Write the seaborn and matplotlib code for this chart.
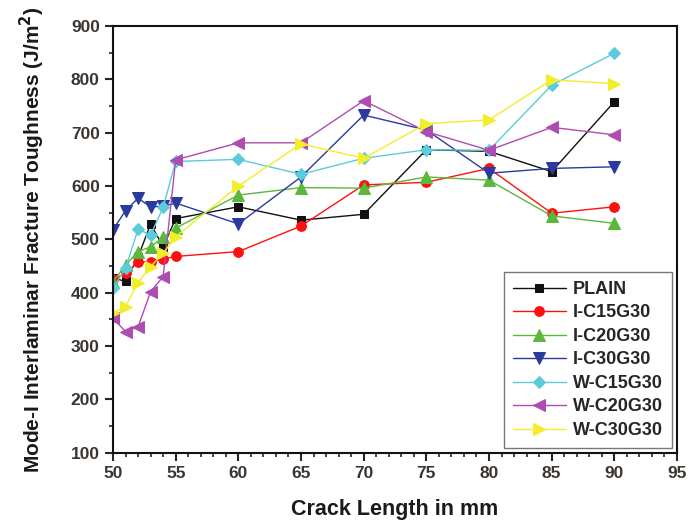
import matplotlib
matplotlib.use("Agg")
import matplotlib.pyplot as plt
import seaborn as sns
from matplotlib.ticker import MultipleLocator

# crack lengths (mm)
crack_length = [50, 51, 52, 53, 54, 55, 60, 65, 70, 75, 80, 85, 90]

# Mode-I interlaminar fracture toughness (J/m^2)
plain = [428, 421, 467, 529, 486, 539, 561, 536, 547, 668, 665, 627, 758]
i_c15g30 = [425, 436, 458, 458, 463, 468, 477, 525, 602, 607, 633, 549, 561]
i_c20g30 = [420, 452, 477, 486, 504, 521, 583, 597, 596, 617, 611, 544, 530]
i_c30g30 = [518, 554, 577, 561, 562, 568, 529, 617, 733, 705, 624, 633, 636]
w_c15g30 = [408, 446, 519, 508, 560, 646, 650, 622, 652, 668, 667, 789, 849]
w_c20g30 = [352, 327, 336, 402, 430, 649, 681, 681, 760, 702, 667, 710, 696]
w_c30g30 = [362, 374, 419, 449, 474, 505, 600, 679, 652, 717, 724, 799, 792]

series = [
    ("PLAIN", plain, "#111111", "s", 6),
    ("I-C15G30", i_c15g30, "#FF1010", "o", 7),
    ("I-C20G30", i_c20g30, "#5CB83A", "^", 8),
    ("I-C30G30", i_c30g30, "#2A3A9E", "v", 8),
    ("W-C15G30", w_c15g30, "#5CCBDB", "D", 6.5),
    ("W-C20G30", w_c20g30, "#AE4CB0", "<", 8),
    ("W-C30G30", w_c30g30, "#F2EE2A", ">", 8),
]

sns.set_style("ticks")
plt.rcParams["font.family"] = ["Liberation Sans", "DejaVu Sans"]
plt.rcParams["font.weight"] = "bold"
plt.rcParams["mathtext.default"] = "bf"

fig = plt.figure(figsize=(6.96, 5.23), dpi=100)
ax = fig.add_axes([0.1624, 0.1344, 0.8103, 0.8159])

for name, vals, col, mk, ms in series:
    sns.lineplot(x=crack_length, y=vals, ax=ax, color=col, marker=mk,
                 markersize=ms, markeredgecolor=col, linewidth=1.0,
                 label=name)

ax.set_xlim(50, 95)
ax.set_ylim(100, 900)
ax.xaxis.set_major_locator(MultipleLocator(5))
ax.xaxis.set_minor_locator(MultipleLocator(1))
ax.yaxis.set_major_locator(MultipleLocator(100))
ax.yaxis.set_minor_locator(MultipleLocator(50))
ax.tick_params(axis="both", which="major", direction="out", length=6, width=1.5,
               labelsize=12.5, labelcolor="#3a3530", top=False, right=False)
ax.tick_params(axis="both", which="minor", direction="out", length=3, width=1.2,
               top=False, right=False)
for lab in ax.get_xticklabels() + ax.get_yticklabels():
    lab.set_fontweight("bold")
for sp in ax.spines.values():
    sp.set_visible(True)
    sp.set_linewidth(1.5)
    sp.set_color("#111111")

ax.set_xlabel("Crack Length in mm", fontsize=15.5, fontweight="bold", labelpad=13,
              color="#1a1a1a")
ax.set_ylabel("Mode-I Interlaminar Fracture Toughness (J/m$^2$)",
              fontsize=15, fontweight="bold", labelpad=17, color="#1a1a1a")

leg = ax.legend(loc="lower right", bbox_to_anchor=(0.991, 0.011), fontsize=13,
                frameon=True, fancybox=False, edgecolor="#555555",
                handlelength=2.9, labelspacing=0.36, borderpad=0.5,
                borderaxespad=0, handletextpad=0.4)
leg.get_frame().set_linewidth(1.0)
for t in leg.get_texts():
    t.set_fontweight("bold")

fig.savefig("out.png", dpi=100)
